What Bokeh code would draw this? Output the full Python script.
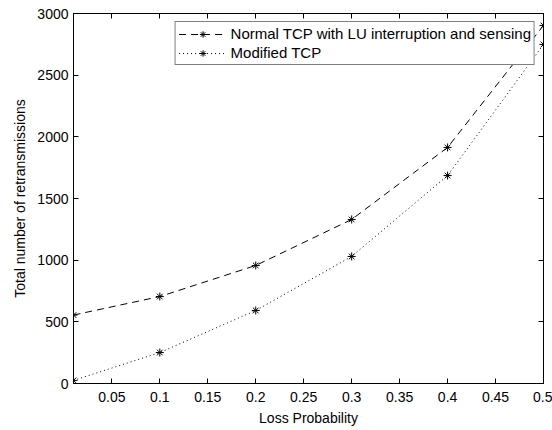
from bokeh.plotting import figure
from bokeh.models import Range1d, FixedTicker, LinearAxis, Legend, LegendItem
from bokeh.embed import file_html
from bokeh.resources import INLINE

loss_prob = [0.01, 0.1, 0.2, 0.3, 0.4, 0.5]
normal_tcp = [555, 705, 957, 1330, 1914, 2903]
modified_tcp = [25, 251, 592, 1030, 1686, 2749]

x_ticks = [0.05, 0.1, 0.15, 0.2, 0.25, 0.3, 0.35, 0.4, 0.45, 0.5]
x_tick_labels = ["0.05", "0.1", "0.15", "0.2", "0.25", "0.3", "0.35", "0.4", "0.45", "0.5"]
y_ticks = [0, 500, 1000, 1500, 2000, 2500, 3000]

FONT = "Liberation Sans"
FS = "14px"

p = figure(frame_width=470, frame_height=370, output_backend="svg", toolbar_location=None,
           x_range=Range1d(0.01, 0.5), y_range=Range1d(0, 3000),
           min_border_left=73, min_border_right=9, min_border_top=13, min_border_bottom=47)
p.background_fill_color = "white"
p.border_fill_color = "white"
p.outline_line_color = "black"
p.outline_line_width = 1
p.grid.visible = False

p.xaxis.ticker = FixedTicker(ticks=x_ticks)
p.xaxis.major_label_overrides = {t: s for t, s in zip(x_ticks, x_tick_labels)}
p.yaxis.ticker = FixedTicker(ticks=y_ticks)
p.xaxis.axis_label = "Loss Probability"
p.yaxis.axis_label = "Total number of retransmissions"

for ax in [p.xaxis[0], p.yaxis[0]]:
    ax.major_tick_in = 5
    ax.major_tick_out = 0
    ax.minor_tick_in = 0
    ax.minor_tick_out = 0
    ax.axis_line_color = "black"
    ax.major_tick_line_color = "black"
    ax.major_label_text_font = FONT
    ax.major_label_text_font_size = FS
    ax.major_label_text_color = "black"
    ax.axis_label_text_font = FONT
    ax.axis_label_text_font_size = FS
    ax.axis_label_text_font_style = "normal"
    ax.axis_label_text_color = "black"
p.xaxis.major_label_standoff = 8
p.yaxis.major_label_standoff = 5
p.xaxis.axis_label_standoff = 5
p.yaxis.axis_label_standoff = 6

for loc, ticks in [("right", y_ticks), ("above", x_ticks)]:
    ax = LinearAxis(ticker=FixedTicker(ticks=ticks), major_tick_in=5, major_tick_out=0,
                    minor_tick_in=0, minor_tick_out=0,
                    major_label_overrides={t: "" for t in ticks},
                    major_label_standoff=0, axis_line_color="black")
    p.add_layout(ax, loc)

l1 = p.line(loss_prob, normal_tcp, line_color="black", line_width=1, line_dash="7 5")
s1 = p.scatter(loss_prob, normal_tcp, marker="asterisk", size=8, line_color="black", line_width=1)
l2 = p.line(loss_prob, modified_tcp, line_color="black", line_width=1, line_dash="1 3")
s2 = p.scatter(loss_prob, modified_tcp, marker="asterisk", size=8, line_color="black", line_width=1)

legend = Legend(items=[
    LegendItem(label="Normal TCP with LU interruption and sensing", renderers=[l1, s1]),
    LegendItem(label="Modified TCP", renderers=[l2, s2]),
], location="top_right")
legend.label_text_font = FONT
legend.label_text_font_size = "15px"
legend.label_text_color = "black"
legend.border_line_color = "black"
legend.border_line_width = 1
legend.background_fill_alpha = 1
legend.glyph_width = 48
legend.glyph_height = 16
legend.label_height = 16
legend.label_standoff = 4
legend.spacing = 2
legend.padding = 3
legend.margin = 8
p.add_layout(legend)

open("out.html", "w").write(file_html(p, INLINE))
